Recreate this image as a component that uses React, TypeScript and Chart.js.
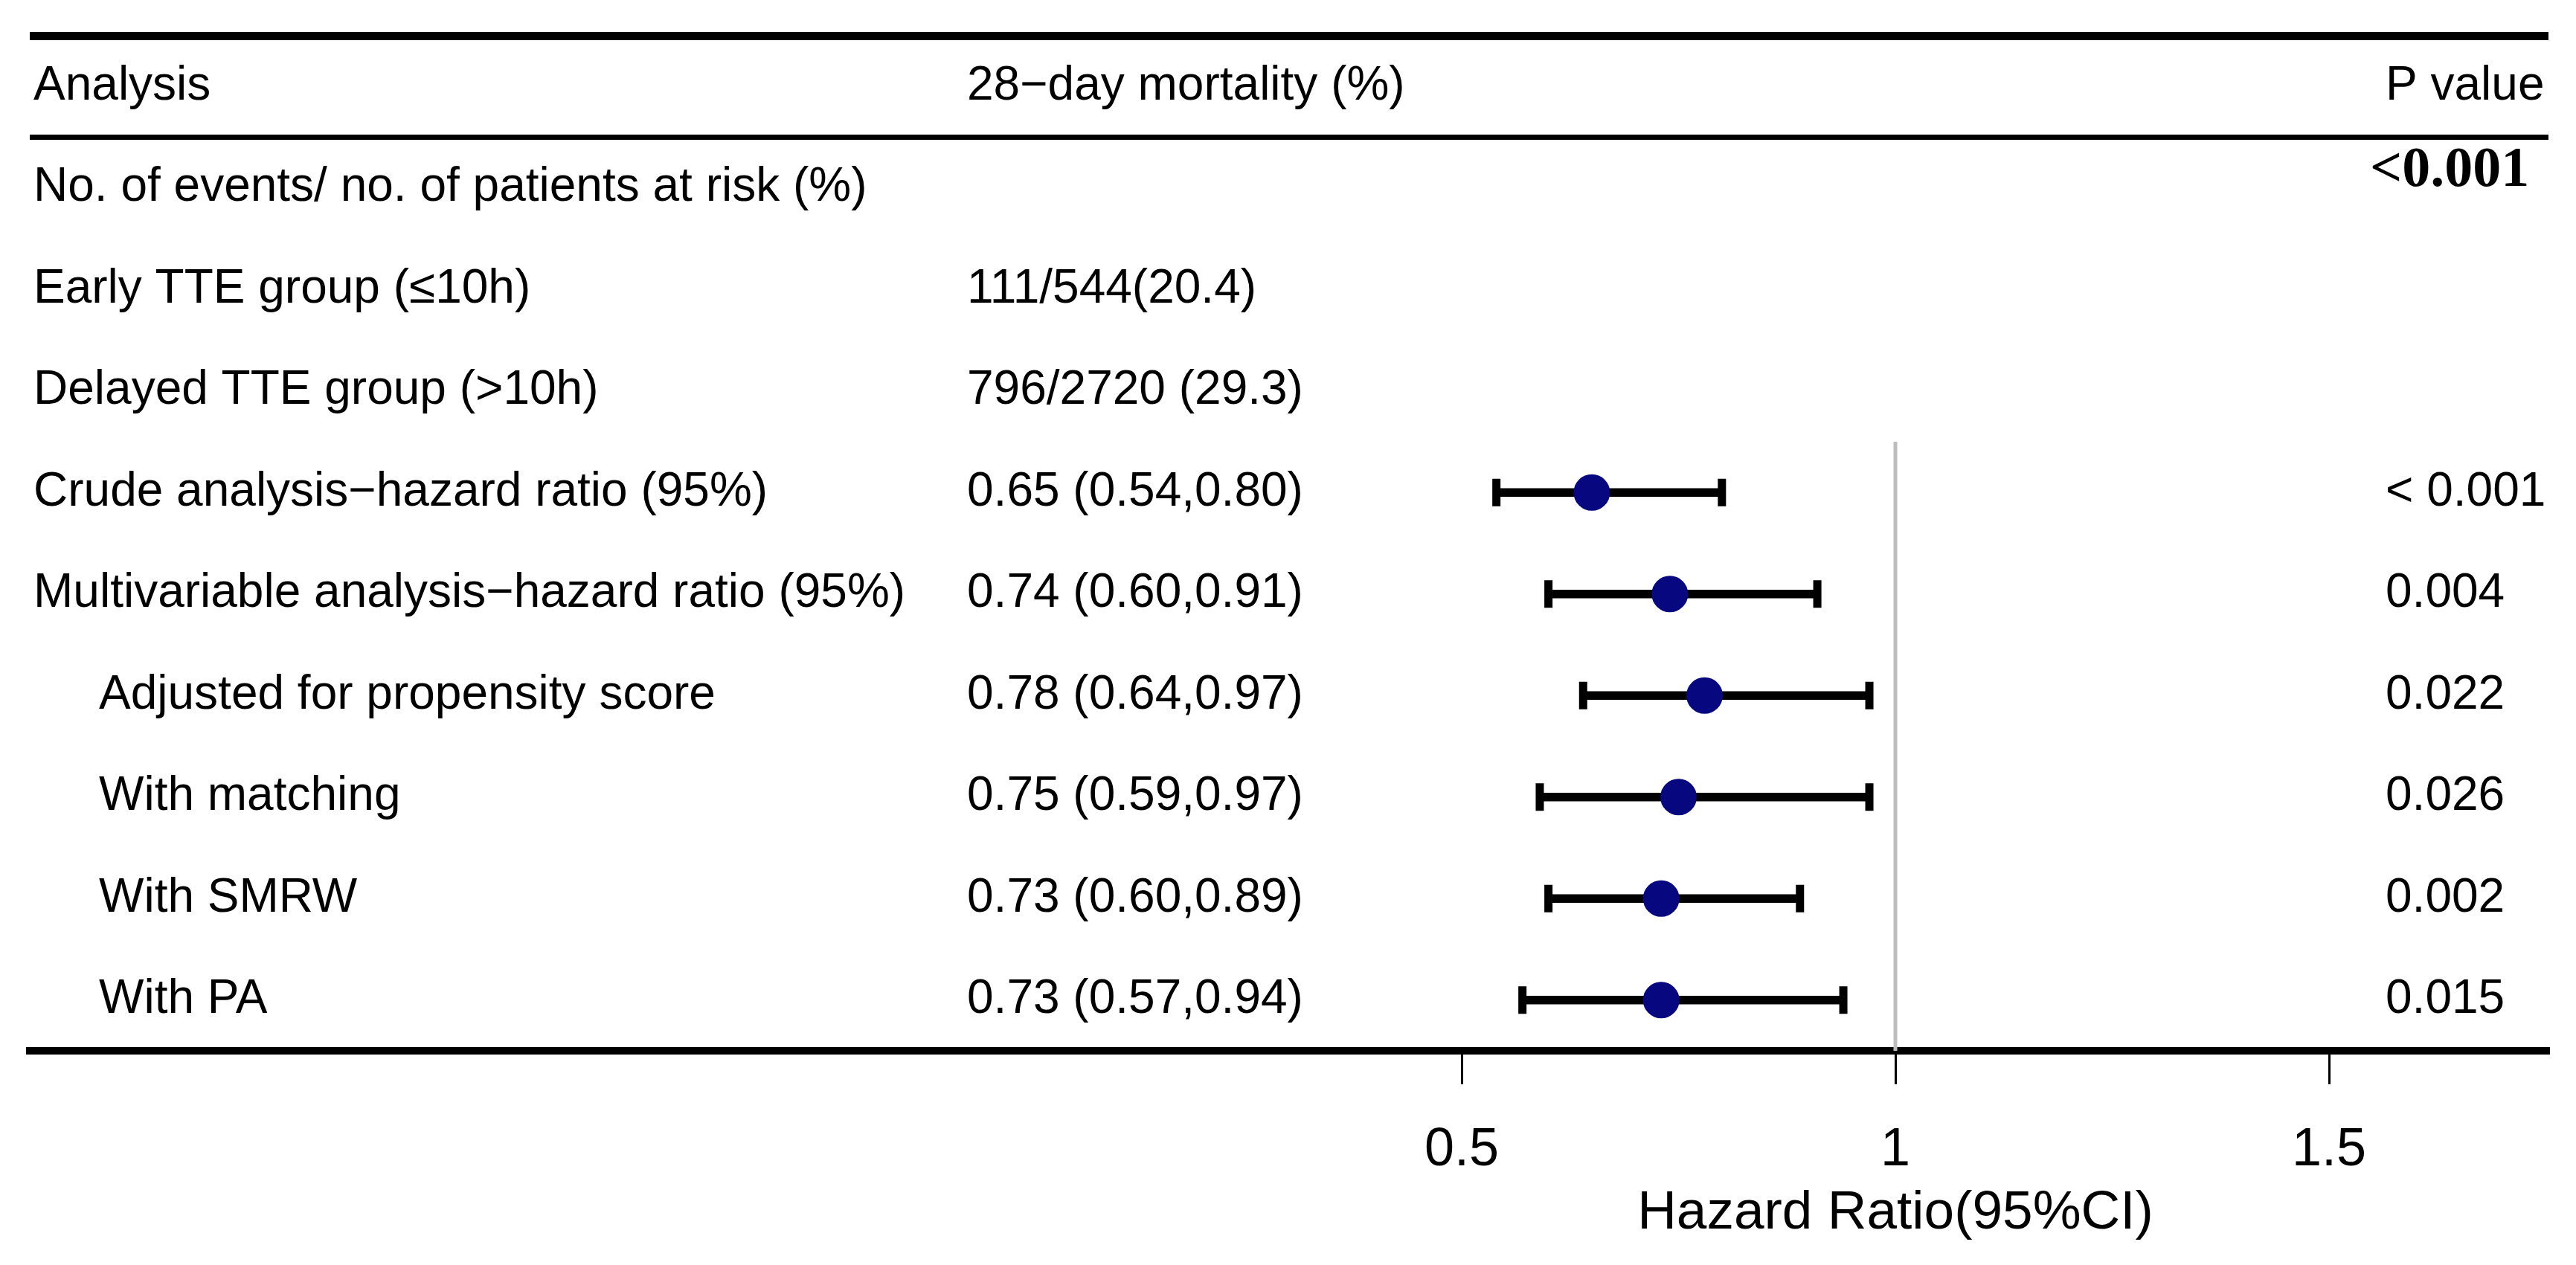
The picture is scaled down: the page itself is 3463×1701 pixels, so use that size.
import React, { useEffect, useRef } from "react";
import { Chart, registerables } from "chart.js";

Chart.register(...registerables);

// ---------- data ----------
const headerLabels = ["Analysis", "28\u2212day mortality (%)", "P value"];
const rowLabels = [
  "No. of events/ no. of patients at risk (%)",
  "Early TTE group (\u226410h)",
  "Delayed TTE group (>10h)",
  "Crude analysis\u2212hazard ratio (95%)",
  "Multivariable analysis\u2212hazard ratio (95%)",
  "Adjusted for propensity score",
  "With matching",
  "With SMRW",
  "With PA",
];
const rowIndented = [false, false, false, false, false, true, true, true, true];
const countRows = [1, 2];
const countText = ["111/544(20.4)", "796/2720 (29.3)"];
const overallPRow = 0;
const overallP = "<0.001";
const estimateRows = [3, 4, 5, 6, 7, 8];
const hazardRatio = [0.65, 0.74, 0.78, 0.75, 0.73, 0.73];
const ciLower = [0.54, 0.6, 0.64, 0.59, 0.6, 0.57];
const ciUpper = [0.8, 0.91, 0.97, 0.97, 0.89, 0.94];
const pValues = ["< 0.001", "0.004", "0.022", "0.026", "0.002", "0.015"];
const tickValues = [0.5, 1, 1.5];
const referenceValue = 1;
const axisTitle = "Hazard Ratio(95%CI)";

// ---------- layout ----------
const SANS = '"Liberation Sans", Arial, sans-serif';
const SERIF = '"Liberation Serif", "Times New Roman", serif';
const X_MIN = -1.151;
const X_MAX = 1.753;
const Y_MIN = -1.5;
const Y_MAX = 8.5;
const HEADER_ROW = -1;
const RULE_ROWS = [-1.5, -0.5];
const RULE_WIDTHS = [11, 7];
const REF_TOP = 2.5;

const tablePlugin = {
  id: "forestTable",
  afterDraw(chart: any) {
    const { ctx, chartArea, scales } = chart;
    const ys = scales.y;
    const xs = scales.x;
    const col1 = chartArea.left + 5;
    const col1Indent = chartArea.left + 93;
    const col2 = 1300;
    const col3 = 3207;
    ctx.save();
    ctx.fillStyle = "#000";
    ctx.textBaseline = "middle";
    ctx.textAlign = "left";
    ctx.font = `64px ${SANS}`;

    const yh = ys.getPixelForValue(HEADER_ROW);
    ctx.fillText(headerLabels[0], col1, yh);
    ctx.fillText(headerLabels[1], col2, yh);
    ctx.fillText(headerLabels[2], col3, yh);

    rowLabels.forEach((label, r) => {
      ctx.fillText(label, rowIndented[r] ? col1Indent : col1, ys.getPixelForValue(r));
    });
    countRows.forEach((r, i) => {
      ctx.fillText(countText[i], col2, ys.getPixelForValue(r));
    });
    estimateRows.forEach((r, i) => {
      const py = ys.getPixelForValue(r);
      const txt = `${hazardRatio[i].toFixed(2)} (${ciLower[i].toFixed(2)},${ciUpper[i].toFixed(2)})`;
      ctx.fillText(txt, col2, py);
      ctx.fillText(pValues[i], col3, py);
    });

    ctx.font = `bold 76px ${SERIF}`;
    ctx.fillText(overallP, 3186, ys.getPixelForValue(overallPRow) - 22);

    ctx.font = `73px ${SANS}`;
    ctx.textAlign = "center";
    ctx.fillText(axisTitle, xs.getPixelForValue(referenceValue), chartArea.bottom + 219);
    ctx.restore();
  },
};

export default function App() {
  const canvasRef = useRef<HTMLCanvasElement | null>(null);

  useEffect(() => {
    const canvas = canvasRef.current;
    if (!canvas) return;

    const dotData = estimateRows.map((r, i) => ({ x: hazardRatio[i], y: r }));
    const capData = [
      ...estimateRows.map((r, i) => ({ x: ciLower[i], y: r })),
      ...estimateRows.map((r, i) => ({ x: ciUpper[i], y: r })),
    ];
    const ciData = estimateRows.map((r, i) => ({ y: r, x: [ciLower[i], ciUpper[i]] }));
    const refData = [
      { x: referenceValue, y: REF_TOP },
      { x: referenceValue, y: Y_MAX },
    ];

    const chart = new Chart(canvas, {
      type: "scatter",
      data: {
        datasets: [
          {
            type: "scatter",
            data: dotData,
            pointStyle: "circle",
            pointRadius: 24.5,
            pointBackgroundColor: "#07077f",
            pointBorderColor: "#07077f",
            pointBorderWidth: 0,
            order: 0,
          } as any,
          {
            type: "scatter",
            data: capData,
            pointStyle: "line",
            pointRotation: 90,
            pointRadius: 18.5,
            pointBorderColor: "#000",
            pointBorderWidth: 11,
            order: 1,
          } as any,
          {
            type: "bar",
            indexAxis: "y",
            data: ciData,
            backgroundColor: "#000",
            barThickness: 11,
            borderWidth: 0,
            order: 2,
          } as any,
          {
            type: "line",
            data: refData,
            borderColor: "#bdbdbd",
            borderWidth: 5,
            pointRadius: 0,
            order: 3,
          } as any,
        ],
      },
      options: {
        animation: false,
        responsive: true,
        maintainAspectRatio: false,
        devicePixelRatio: 1,
        events: [],
        layout: { padding: { top: 48, left: 40, right: 37, bottom: 0 }, autoPadding: false },
        plugins: {
          legend: { display: false },
          tooltip: { enabled: false },
          title: { display: false },
        },
        scales: {
          x: {
            type: "linear",
            position: "bottom",
            min: X_MIN,
            max: X_MAX,
            offset: false,
            afterBuildTicks: (s: any) => {
              s.ticks = tickValues.map((v) => ({ value: v }));
            },
            afterFit: (s: any) => {
              s.height = 288;
            },
            ticks: {
              color: "#000",
              font: { family: SANS, size: 72 },
              padding: 46,
              autoSkip: false,
              maxRotation: 0,
              callback: (v: any) => String(v),
            },
            grid: {
              offset: false,
              drawOnChartArea: false,
              drawTicks: true,
              tickLength: 45,
              color: "#000",
              lineWidth: 3,
            },
            border: { display: true, color: "#000", width: 10 },
          },
          y: {
            type: "linear",
            min: Y_MIN,
            max: Y_MAX,
            reverse: true,
            offset: false,
            afterBuildTicks: (s: any) => {
              s.ticks = RULE_ROWS.map((v) => ({ value: v }));
            },
            afterFit: (s: any) => {
              s.width = 0;
            },
            ticks: { display: false },
            grid: {
              offset: false,
              drawTicks: false,
              color: "#000",
              lineWidth: (c: any) => RULE_WIDTHS[c.index] ?? 0,
            },
            border: { display: false },
          },
        },
      } as any,
      plugins: [tablePlugin],
    });

    return () => chart.destroy();
  }, []);

  return (
    <div
      style={{
        position: "fixed",
        left: 0,
        top: 0,
        width: "3463px",
        height: "1701px",
        background: "#fff",
      }}
    >
      <canvas ref={canvasRef} />
    </div>
  );
}
